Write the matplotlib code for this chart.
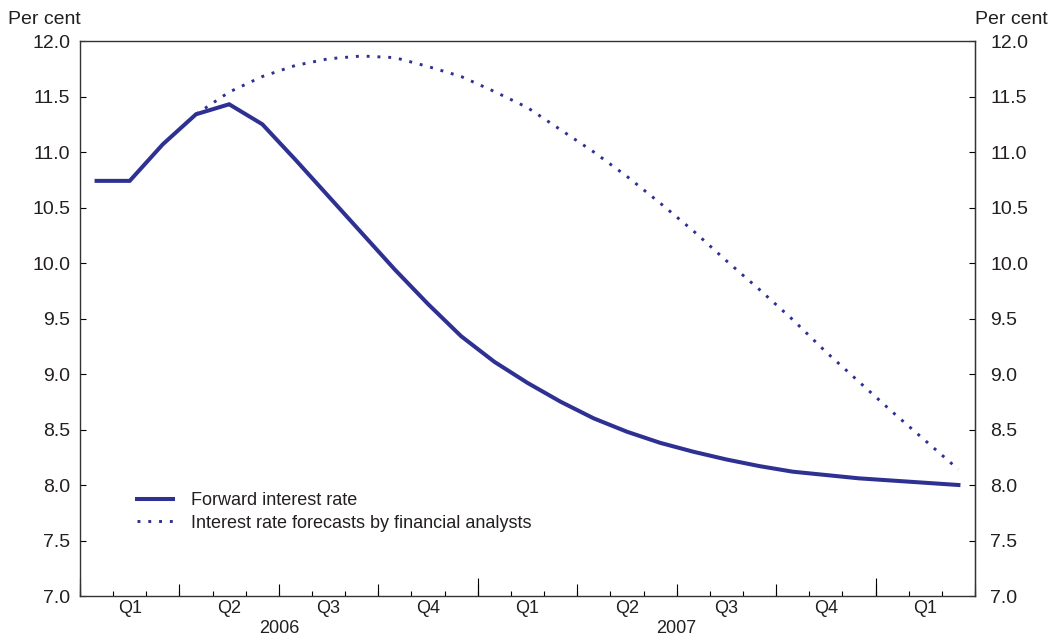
import matplotlib
matplotlib.use('Agg')
import matplotlib.pyplot as plt
import numpy as np

plt.rcParams['font.family'] = ['Liberation Sans', 'DejaVu Sans']

# monthly values, Jan 2006 - Mar 2008
forward = [10.74, 10.74, 11.07, 11.34, 11.43, 11.25, 10.93, 10.60, 10.27, 9.94,
           9.63, 9.34, 9.11, 8.92, 8.75, 8.60, 8.48, 8.38, 8.30, 8.23,
           8.17, 8.12, 8.09, 8.06, 8.04, 8.02, 8.00]
# analysts' forecast starts in Apr 2006
analysts_start = 3
analysts = [11.34, 11.54, 11.68, 11.78, 11.84, 11.865, 11.85, 11.77, 11.68, 11.545,
            11.40, 11.20, 11.00, 10.78, 10.54, 10.29, 10.02, 9.76, 9.49, 9.20,
            8.93, 8.66, 8.40, 8.14]
quarter_labels = ['Q1', 'Q2', 'Q3', 'Q4', 'Q1', 'Q2', 'Q3', 'Q4', 'Q1']
year_labels = ['2006', '2007']

color = '#2e3192'
txt = '#231f20'
fs = 13
yfs = 14

fig = plt.figure(figsize=(10.56, 6.38), dpi=100)
ax = fig.add_axes([80/1056, 1 - 596/638, 895/1056, 555/638])

n = len(forward)
x = np.arange(n) + 0.5
xa = np.arange(analysts_start, analysts_start + len(analysts)) + 0.5

ax.plot(xa, analysts, color=color, lw=2.1, ls=(0, (1, 2.7)),
        label='Interest rate forecasts by financial analysts')
ax.plot(x, forward, color=color, lw=2.9, solid_joinstyle='miter',
        label='Forward interest rate')

ax.set_xlim(0, n)
ax.set_ylim(7, 12)
yt = np.arange(7, 12.01, 0.5)
ylab = [f'{v:.1f}' for v in yt]
ax.set_yticks(yt)
ax.set_yticklabels(ylab)
ax.tick_params(axis='y', direction='in', length=4, width=0.8,
               labelsize=yfs, labelcolor=txt, pad=7)

ry = ax.secondary_yaxis('right')
ry.set_yticks(yt)
ry.set_yticklabels(ylab)
ry.tick_params(direction='in', length=4, width=0.8,
               labelsize=yfs, labelcolor=txt, pad=11)

# month ticks
ax.set_xticks(np.arange(0, n + 1))
ax.set_xticklabels([])
ax.tick_params(axis='x', which='major', direction='in', length=3.5, width=0.8)

# quarter ticks
sq = ax.secondary_xaxis('bottom')
sq.set_xticks(np.arange(0, n + 1, 3))
sq.set_xticklabels([])
sq.tick_params(direction='in', length=9, width=0.8)
sq.spines['bottom'].set_visible(False)

# year ticks
sy = ax.secondary_xaxis('bottom')
sy.set_xticks([0, 12, 24])
sy.set_xticklabels([])
sy.tick_params(direction='in', length=13, width=0.8)
sy.spines['bottom'].set_visible(False)

# quarter labels
sl = ax.secondary_xaxis('bottom')
sl.set_xticks(np.arange(1.5, n, 3))
sl.set_xticklabels(quarter_labels)
sl.tick_params(length=0, labelsize=fs, labelcolor=txt, pad=3)
sl.spines['bottom'].set_visible(False)

# year labels
syl = ax.secondary_xaxis('bottom')
syl.set_xticks([6, 18])
syl.set_xticklabels(year_labels)
syl.tick_params(length=0, labelsize=fs, labelcolor=txt, pad=17.5)
syl.spines['bottom'].set_visible(False)

for s in ax.spines.values():
    s.set_linewidth(1.0)
    s.set_color('#333333')

fig.text(8/1056, 1 - 19/638, 'Per cent', fontsize=yfs, color=txt, va='center', ha='left')
fig.text(975/1056, 1 - 19/638, 'Per cent', fontsize=yfs, color=txt, va='center', ha='left')

h, l = ax.get_legend_handles_labels()
ax.legend(h[::-1], l[::-1], loc='upper left', bbox_to_anchor=(0.064, 0.187),
          frameon=False, fontsize=fs, handlelength=2.0, handletextpad=0.95,
          labelspacing=0.3, borderaxespad=0, borderpad=0, labelcolor=txt)

fig.savefig('out.png', dpi=100)
